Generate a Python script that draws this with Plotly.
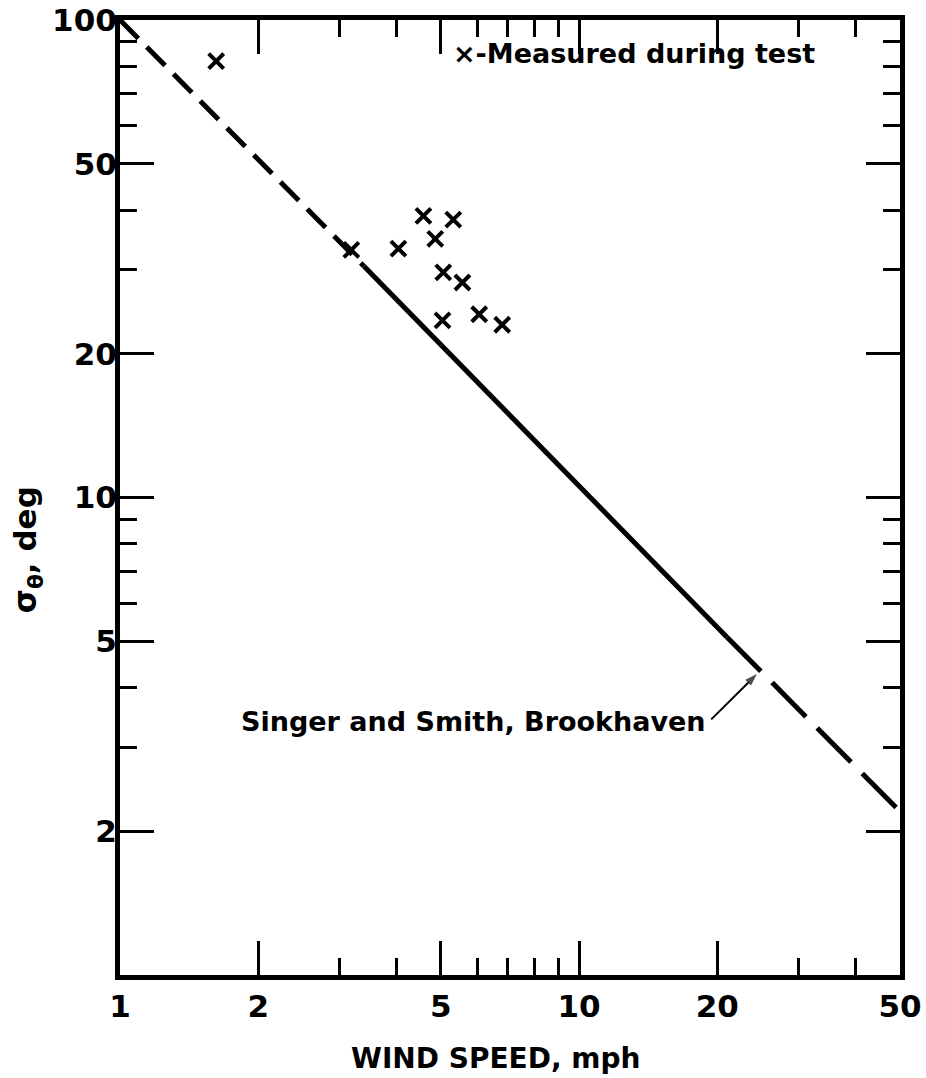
import plotly.graph_objects as go
import math

# Measured wind-direction fluctuation versus wind speed
measured_speed = [1.62, 3.19, 4.04, 4.58, 5.32, 4.86, 5.06, 5.57, 5.04, 6.06, 6.80]
measured_sigma = [82.0, 33.0, 33.2, 38.9, 38.2, 34.8, 29.6, 28.2, 23.5, 24.2, 23.0]

# Singer and Smith (Brookhaven) curve: break points of its drawn segments
curve_speed = [1.0, 3.4, 21.0, 50.0]
curve_sigma = [100.0, 30.5, 5.1, 2.2]

# Axis ticks
x_major = [1, 2, 5, 10, 20, 50]
x_major_text = ["1", "2", "5", "10", "20", "50"]
x_minor = [3, 4, 6, 7, 8, 9, 30, 40]
y_major = [2, 5, 10, 20, 50, 100]
y_major_text = ["2", "5", "10", "20", "50", "100"]
y_minor = [3, 4, 6, 7, 8, 9, 30, 40, 60, 70, 80, 90]

# Leader from the curve label to the curve
leader_speed = [19.4, 24.4]
leader_sigma = [3.43, 4.27]

FONT = "DejaVu Sans"
INK = "black"

fig = go.Figure()

# dashed - solid - dashed curve
fig.add_trace(go.Scatter(x=curve_speed[0:2], y=curve_sigma[0:2], mode="lines",
                         line=dict(color=INK, width=5, dash="26px,12px"),
                         showlegend=False, hoverinfo="skip"))
fig.add_trace(go.Scatter(x=curve_speed[1:3], y=curve_sigma[1:3], mode="lines",
                         line=dict(color=INK, width=5),
                         showlegend=False, hoverinfo="skip"))
fig.add_trace(go.Scatter(x=curve_speed[2:4], y=curve_sigma[2:4], mode="lines",
                         line=dict(color=INK, width=5, dash="48px,16px"),
                         showlegend=False, hoverinfo="skip"))

# measured points
fig.add_trace(go.Scatter(x=measured_speed, y=measured_sigma, mode="markers",
                         marker=dict(symbol="x-thin", size=15,
                                     line=dict(color=INK, width=4)),
                         showlegend=False, cliponaxis=False))

# leader line with arrowhead at the curve
fig.add_trace(go.Scatter(x=leader_speed, y=leader_sigma, mode="lines+markers",
                         line=dict(color=INK, width=2),
                         marker=dict(symbol="arrow", size=[0, 13], angleref="previous",
                                     color=INK, line=dict(width=0)),
                         showlegend=False, hoverinfo="skip"))

axis_common = dict(
    type="log",
    showline=True, linecolor=INK, linewidth=5,
    mirror="allticks",
    ticks="inside", ticklen=34, tickwidth=3, tickcolor=INK,
    showgrid=False, zeroline=False,
    tickfont=dict(family=FONT, size=31, color=INK, weight="bold"),
    tickmode="array",
    ticklabeloverflow="allow",
    automargin=False,
)

fig.update_xaxes(
    **axis_common,
    range=[0, math.log10(50)],
    tickvals=x_major, ticktext=x_major_text,
    minor=dict(tickvals=x_minor, ticks="inside", ticklen=17, tickwidth=3,
               tickcolor=INK, showgrid=False),
)
fig.update_yaxes(
    **axis_common,
    range=[0, 2],
    tickvals=y_major, ticktext=y_major_text,
    ticklabelstandoff=-8,
    minor=dict(tickvals=y_minor, ticks="inside", ticklen=17, tickwidth=3,
               tickcolor=INK, showgrid=False),
)

# axis titles
fig.add_annotation(x=0.481, y=-0.087, xref="paper", yref="paper",
                   text="WIND SPEED, mph", showarrow=False,
                   xanchor="center", yanchor="middle",
                   font=dict(family=FONT, size=28, color=INK, weight="bold"))
fig.add_annotation(x=-0.119, y=0.445, xref="paper", yref="paper",
                   text="σ<sub>θ</sub>, deg", showarrow=False, textangle=-90,
                   xanchor="center", yanchor="middle",
                   font=dict(family=FONT, size=31, color=INK, weight="bold"))

# in-plot labels
fig.add_annotation(x=math.log10(32.9), y=math.log10(85), xref="x", yref="y",
                   text="×-Measured during test", showarrow=False,
                   xanchor="right", yanchor="middle",
                   font=dict(family=FONT, size=27, color=INK, weight="bold"))
fig.add_annotation(x=math.log10(leader_speed[0] * 0.985), y=math.log10(leader_sigma[0] * 0.99),
                   xref="x", yref="y", text="Singer and Smith, Brookhaven",
                   showarrow=False, xanchor="right", yanchor="middle",
                   font=dict(family=FONT, size=27, color=INK, weight="bold"))

fig.update_layout(
    width=926, height=1078,
    margin=dict(l=120, r=26, t=20, b=103),
    paper_bgcolor="white", plot_bgcolor="white",
    showlegend=False,
)

fig.write_html("out.html")
